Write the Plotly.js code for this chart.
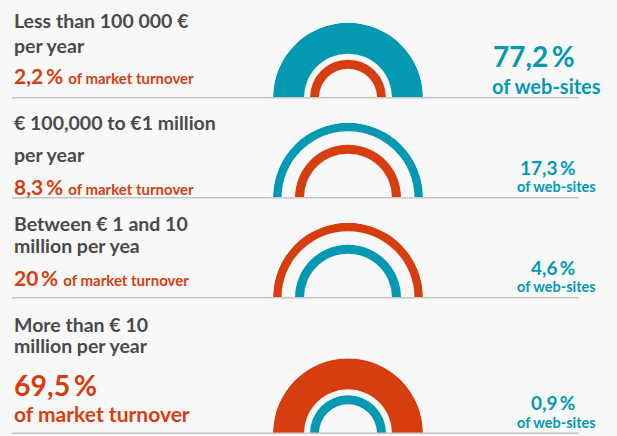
<!DOCTYPE html>
<html><head><meta charset="utf-8">
<script src="https://cdn.plot.ly/plotly-3.0.1.min.js"></script>
<style>html,body{margin:0;padding:0;background:#f8f8f8;}</style>
</head><body><div id="chart" style="width:617px;height:436px;"></div>
<script>
// ---- data ----
const labelLine1 = ["Less than 100 000 €", "€ 100,000 to €1 million", "Between € 1 and 10", "More than € 10"];
const labelLine2 = ["per year", "per year", "million per yea", "million per year"];
const turnoverShare = [2.2, 8.3, 20, 69.5];   // % of market turnover
const websiteShare = [77.2, 17.3, 4.6, 0.9];  // % of web-sites
const turnoverText = "of market turnover";
const websiteText = "of web-sites";

// ---- style / layout ----
const W = 617, H = 436;
const RED = "#d63e10", TEAL = "#0399b3", DARK = "#4a4a4a", BG = "#f8f8f8";
const FONT = "Lato, 'Open Sans', sans-serif";
const baselines = [97.7, 197.7, 297.7, 433.3];
const line1Base = [27, 128.3, 229.3, 330];
const line2Base = [51, 160, 251.7, 351.7];
const redBase = [81.7, 192.7, 283.3, 0];
const arcCx = 348, R = 75;
const px = v => v / W, py = v => 1 - v / H;
const fmt = v => String(v).replace('.', ',') + '\u2009%';

const traces = [], layout = {
  width: W, height: H, margin: {l:0, r:0, t:0, b:0},
  paper_bgcolor: BG, plot_bgcolor: BG, showlegend: false,
  shapes: [], annotations: []
};

turnoverShare.forEach((t, i) => {
  const w = websiteShare[i];
  const base = baselines[i];
  const pid = i === 0 ? 'polar' : 'polar' + (i + 1);
  // arcs: bigger share outside
  const arcs = [{v: w, c: TEAL}, {v: t, c: RED}].sort((a, b) => b.v - a.v);
  const outerThick = arcs[0].v > 50 ? 31 : 8.5;
  const innerOuterR = arcs[0].v > 50 ? 38 : 53;
  const innerThick = 9;
  const geo = [[R - outerThick, outerThick], [innerOuterR - innerThick, innerThick]];
  arcs.forEach((a, k) => {
    traces.push({
      type: 'barpolar', subplot: pid,
      theta: [90], width: [180],
      base: [geo[k][0]], r: [geo[k][1]],
      marker: {color: a.c, line: {width: 0}},
      customdata: [a.v], hoverinfo: 'skip'
    });
  });
  layout[pid] = {
    domain: {x: [px(arcCx - R), px(arcCx + R)], y: [1 - base / H, 1 - (base - R) / H]},
    sector: [0, 180], hole: 0, bgcolor: 'rgba(0,0,0,0)',
    radialaxis: {visible: false, range: [0, R], autorange: false, showgrid: false},
    angularaxis: {visible: false, showgrid: false, showline: false, showticklabels: false, ticks: ''}
  };
  // separator
  layout.shapes.push({type: 'line', xref: 'paper', yref: 'paper',
    x0: px(12), x1: px(579), y0: py(base), y1: py(base),
    line: {color: '#c6c6c6', width: 1.5}});

  const ann = (x, y, text, size, color, xanchor) => layout.annotations.push({
    xref: 'paper', yref: 'paper', x: px(x), y: py(y), xanchor: xanchor || 'left', yanchor: 'middle',
    text: text, showarrow: false, font: {family: FONT, size: size, color: color, weight: 700}
  });
  // left labels
  ann(12, line1Base[i] - 6, labelLine1[i], 19.5, DARK);
  ann(12, line2Base[i] - 6, labelLine2[i], 19.5, DARK);
  if (t > 50) {
    ann(12, base - 40 - 8.5, fmt(t), 28.5, RED);
    ann(12, base - 13.3 - 6.5, turnoverText, 21, RED);
  } else {
    ann(12, redBase[i] - 6, fmt(t) + ' <span style="font-size:15px">' + turnoverText + '</span>', 21, RED);
  }
  // right labels
  if (w > 50) {
    ann(577, base - 32.7 - 8.5, fmt(w), 28, TEAL, 'right');
    ann(603, base - 6 - 6, websiteText, 20, TEAL, 'right');
  } else {
    ann(577, base - 24.4 - 6, fmt(w), 19, TEAL, 'right');
    ann(598, base - 6.3 - 5, websiteText, 14.5, TEAL, 'right');
  }
});

Plotly.newPlot('chart', traces, layout, {displayModeBar: false, staticPlot: true});
</script></body></html>
